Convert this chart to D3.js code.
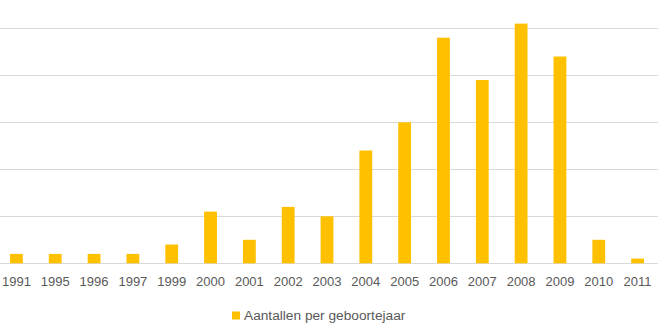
<!DOCTYPE html>
<html>
<head>
<meta charset="utf-8">
<script src="https://cdn.jsdelivr.net/npm/d3@7"></script>
<style>
  html, body { margin: 0; padding: 0; background: #fff; }
  svg { display: block; }
</style>
</head>
<body>
<svg id="chart" width="659" height="331"></svg>
<script>
// Births per year
const years = ["1991","1995","1996","1997","1999","2000","2001","2002","2003","2004","2005","2006","2007","2008","2009","2010","2011"];
const counts = [2, 2, 2, 2, 4, 11, 5, 12, 10, 24, 30, 48, 39, 51, 44, 5, 1];
const gridTicks = [0, 10, 20, 30, 40, 50];
const seriesName = "Aantallen per geboortejaar";

const svg = d3.select("#chart");

const x = d3.scaleBand()
  .domain(years)
  .range([-3, 657])
  .paddingInner(0.67)
  .paddingOuter(0.335);

const y = d3.scaleLinear()
  .domain([0, 50])
  .range([263.3, 28.3]);

// horizontal gridlines
svg.append("g")
  .selectAll("line")
  .data(gridTicks)
  .join("line")
  .attr("x1", 0)
  .attr("x2", 658)
  .attr("y1", d => Math.round(y(d)) + 0.5)
  .attr("y2", d => Math.round(y(d)) + 0.5)
  .attr("stroke", "#d9d9d9")
  .attr("stroke-width", 1);

// bars
svg.append("g")
  .selectAll("rect")
  .data(years.map((yr, i) => ({ yr, v: counts[i] })))
  .join("rect")
  .attr("x", d => x(d.yr))
  .attr("width", x.bandwidth())
  .attr("y", d => y(d.v))
  .attr("height", d => y(0) - y(d.v))
  .attr("fill", "#ffc000");

// category axis labels
const xAxis = d3.axisBottom(x).tickSize(0).tickPadding(0);
const gx = svg.append("g")
  .attr("transform", "translate(0,277)")
  .call(xAxis);
gx.select(".domain").remove();
gx.selectAll("text")
  .attr("dy", "0.71em")
  .attr("fill", "#595959")
  .style("font-family", "'Liberation Sans', Arial, sans-serif")
  .style("font-size", "13px");

// legend
const legend = svg.append("g").attr("transform", "translate(232,311.5)");
legend.append("rect")
  .attr("width", 8)
  .attr("height", 8)
  .attr("fill", "#ffc000");
legend.append("text")
  .attr("x", 12)
  .attr("y", 4)
  .attr("dy", "0.35em")
  .attr("fill", "#595959")
  .style("font-family", "'Liberation Sans', Arial, sans-serif")
  .style("font-size", "13.7px")
  .text(seriesName);
</script>
</body>
</html>
